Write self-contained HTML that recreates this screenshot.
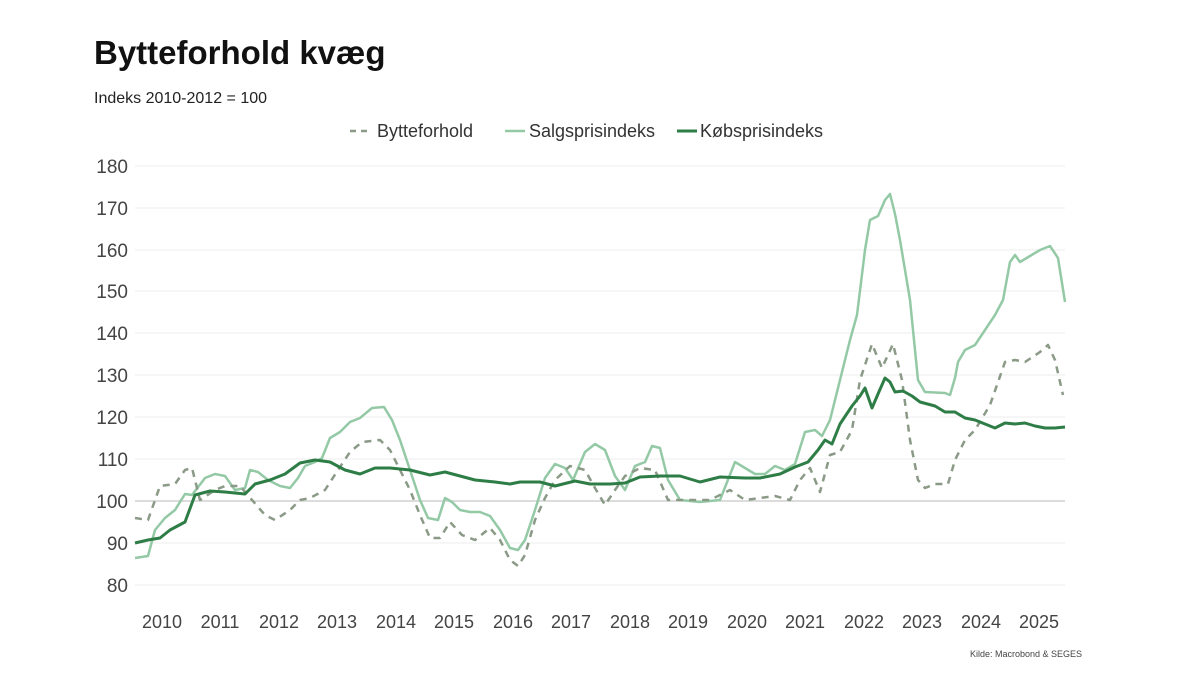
<!DOCTYPE html>
<html><head><meta charset="utf-8"><style>
body{margin:0;background:#fff;}
svg text{font-family:"Liberation Sans",sans-serif;}
</style></head><body>
<svg width="1200" height="673" viewBox="0 0 1200 673" xmlns="http://www.w3.org/2000/svg">
<rect width="1200" height="673" fill="#fff"/>
<text x="94" y="64" font-size="33" font-weight="bold" fill="#111">Bytteforhold kvæg</text>
<text x="94" y="103" font-size="16" fill="#222">Indeks 2010-2012 = 100</text>
<g font-size="18" fill="#333">
<line x1="350" y1="131" x2="372" y2="131" stroke="#8a9a86" stroke-width="2.5" stroke-dasharray="6,5"/>
<text x="377" y="137">Bytteforhold</text>
<line x1="505" y1="131" x2="525" y2="131" stroke="#94c9a6" stroke-width="2.5"/>
<text x="529" y="137">Salgsprisindeks</text>
<line x1="677" y1="131" x2="697" y2="131" stroke="#2e7d46" stroke-width="3"/>
<text x="700" y="137">Købsprisindeks</text>
</g>
<g stroke="#eee" stroke-width="1">
<line x1="135" y1="166" x2="1065" y2="166"/><line x1="135" y1="208" x2="1065" y2="208"/>
<line x1="135" y1="250" x2="1065" y2="250"/><line x1="135" y1="291" x2="1065" y2="291"/>
<line x1="135" y1="333" x2="1065" y2="333"/><line x1="135" y1="375" x2="1065" y2="375"/>
<line x1="135" y1="417" x2="1065" y2="417"/><line x1="135" y1="459" x2="1065" y2="459"/>
<line x1="135" y1="543" x2="1065" y2="543"/><line x1="135" y1="585" x2="1065" y2="585"/>
</g>
<line x1="135" y1="501" x2="1065" y2="501" stroke="#c8c8c8" stroke-width="1.2"/>
<g font-size="19" fill="#444" text-anchor="end">
<text x="128" y="173">180</text><text x="128" y="215">170</text><text x="128" y="257">160</text>
<text x="128" y="298">150</text><text x="128" y="340">140</text><text x="128" y="382">130</text>
<text x="128" y="424">120</text><text x="128" y="466">110</text><text x="128" y="508">100</text>
<text x="128" y="550">90</text><text x="128" y="592">80</text>
</g>
<g font-size="18" fill="#444" text-anchor="middle">
<text x="162" y="628">2010</text><text x="220" y="628">2011</text><text x="279" y="628">2012</text>
<text x="337" y="628">2013</text><text x="396" y="628">2014</text><text x="454" y="628">2015</text>
<text x="513" y="628">2016</text><text x="571" y="628">2017</text><text x="630" y="628">2018</text>
<text x="688" y="628">2019</text><text x="747" y="628">2020</text><text x="805" y="628">2021</text>
<text x="864" y="628">2022</text><text x="922" y="628">2023</text><text x="981" y="628">2024</text>
<text x="1039" y="628">2025</text>
</g>
<text x="1082" y="657" font-size="9" fill="#444" text-anchor="end">Kilde: Macrobond &amp; SEGES</text>
<polyline fill="none" stroke="#94c9a6" stroke-width="2.5" stroke-linejoin="round" points="135,558 148,556 155,530 165,518 175,510 185,494 192,495 205,478 215,474 225,476 235,490 245,488 250,470 258,472 268,480 280,486 290,488 298,478 305,466 315,462 322,458 330,438 340,432 350,422 360,418 372,408 384,407 392,420 400,440 410,470 420,500 428,518 438,520 445,498 452,502 460,510 470,512 480,512 490,516 500,530 510,548 518,550 525,540 535,510 545,478 555,464 565,468 573,480 585,452 595,444 605,450 615,476 625,490 635,466 645,462 652,446 660,448 668,480 680,500 700,502 720,500 735,462 745,468 755,474 765,474 775,466 785,470 795,464 805,432 815,430 822,436 830,420 840,380 850,340 857,315 865,250 870,220 878,216 885,200 890,194 895,214 900,240 910,300 918,380 925,392 945,393 950,395 955,378 958,362 965,350 975,345 985,330 995,315 1003,300 1010,262 1015,255 1020,262 1030,256 1040,250 1050,246 1058,258 1065,302"/>
<polyline fill="none" stroke="#8a9a86" stroke-width="2.5" stroke-dasharray="7,6" stroke-linejoin="round" points="135,518 148,520 160,486 175,484 185,470 192,468 200,500 215,490 225,486 240,486 252,500 265,515 275,520 290,510 300,500 310,498 325,490 338,470 350,452 362,442 380,440 390,450 400,470 410,490 420,515 430,538 440,538 450,522 462,535 475,540 490,528 500,540 510,560 518,566 525,555 535,520 545,498 555,480 570,466 585,470 595,488 605,505 615,490 625,476 640,468 655,470 668,500 690,500 710,500 730,490 745,500 760,498 775,496 790,500 800,480 810,468 820,492 830,455 840,452 852,430 860,380 872,344 882,368 893,344 902,380 910,440 918,480 925,488 935,484 948,484 955,460 965,440 975,430 990,405 1005,362 1015,360 1025,362 1040,352 1048,345 1055,360 1063,395"/>
<polyline fill="none" stroke="#2e7d46" stroke-width="3" stroke-linejoin="round" points="135,543 148,540 160,538 170,530 185,522 195,495 210,491 225,492 245,494 255,484 270,480 285,474 300,463 315,460 330,462 345,470 360,474 375,468 390,468 410,470 430,475 445,472 460,476 475,480 495,482 510,484 520,482 540,482 555,486 575,481 590,484 610,484 625,483 640,477 660,476 680,476 700,482 720,477 745,478 760,478 780,474 795,467 808,462 818,450 825,440 832,444 840,424 852,406 860,396 865,388 872,408 878,394 885,378 890,382 895,392 903,391 912,396 920,402 935,406 945,412 955,412 965,418 975,420 985,424 995,428 1005,423 1015,424 1025,423 1035,426 1045,428 1055,428 1065,427"/>
</svg>
</body></html>
